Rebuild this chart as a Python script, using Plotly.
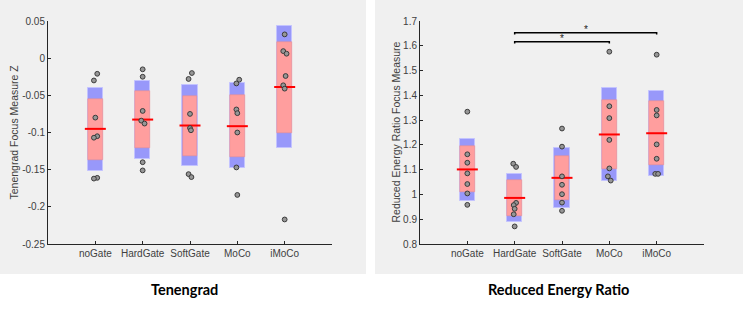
import plotly.graph_objects as go

categories = ["noGate", "HardGate", "SoftGate", "MoCo", "iMoCo"]

# ---- Tenengrad panel ----
ten_mean = [-0.0951, -0.0826, -0.0906, -0.0915, -0.0388]
ten_ci_lo = [-0.1372, -0.1210, -0.1314, -0.1336, -0.1010]
ten_ci_hi = [-0.0543, -0.0445, -0.0508, -0.0494, 0.0217]
ten_sd_lo = [-0.1515, -0.1350, -0.1457, -0.1480, -0.1213]
ten_sd_hi = [-0.0396, -0.0310, -0.0355, -0.0340, 0.0437]
ten_points = [
    [-0.021, -0.030, -0.080, -0.105, -0.107, -0.161, -0.162],
    [-0.015, -0.025, -0.071, -0.084, -0.088, -0.140, -0.151],
    [-0.020, -0.028, -0.075, -0.094, -0.097, -0.156, -0.160],
    [-0.029, -0.034, -0.069, -0.074, -0.100, -0.147, -0.184],
    [0.032, 0.0095, 0.006, -0.024, -0.0365, -0.041, -0.217],
]
ten_jitter = [
    [0.04, -0.03, 0.00, 0.04, -0.03, 0.04, -0.03],
    [0.00, 0.00, 0.00, -0.03, 0.04, 0.00, 0.00],
    [0.04, -0.03, 0.00, 0.00, 0.02, -0.03, 0.03],
    [0.04, -0.02, -0.02, 0.00, 0.00, -0.02, 0.00],
    [0.00, -0.03, 0.04, 0.02, -0.03, 0.00, 0.00],
]
ten_yticks = [-0.25, -0.2, -0.15, -0.1, -0.05, 0, 0.05]
ten_yticktext = ["-0.25", "-0.2", "-0.15", "-0.1", "-0.05", "0", "0.05"]

# ---- Reduced Energy Ratio panel ----
rer_mean = [1.101, 0.986, 1.067, 1.242, 1.247]
rer_ci_lo = [1.008, 0.913, 0.978, 1.104, 1.117]
rer_ci_hi = [1.194, 1.058, 1.156, 1.382, 1.378]
rer_sd_lo = [0.974, 0.889, 0.947, 1.054, 1.075]
rer_sd_hi = [1.224, 1.083, 1.187, 1.430, 1.419]
rer_points = [
    [1.334, 1.162, 1.128, 1.085, 1.042, 1.004, 0.958],
    [1.124, 1.111, 0.966, 0.957, 0.942, 0.920, 0.871],
    [1.266, 1.193, 1.073, 1.039, 1.001, 0.967, 0.934],
    [1.576, 1.356, 1.308, 1.220, 1.105, 1.073, 1.056],
    [1.564, 1.341, 1.319, 1.202, 1.144, 1.083, 1.083],
]
rer_jitter = [
    [0.00, 0.00, 0.00, 0.00, 0.00, 0.00, 0.00],
    [-0.03, 0.03, 0.03, -0.02, 0.00, -0.02, 0.00],
    [0.00, 0.00, 0.00, 0.00, 0.00, 0.00, 0.00],
    [0.00, 0.00, 0.00, 0.00, 0.00, -0.03, 0.03],
    [0.00, 0.00, 0.00, 0.00, 0.00, -0.03, 0.03],
]
rer_yticks = [0.8, 0.9, 1.0, 1.1, 1.2, 1.3, 1.4, 1.5, 1.6, 1.7]
rer_yticktext = ["0.8", "0.9", "1", "1.1", "1.2", "1.3", "1.4", "1.5", "1.6", "1.7"]
# significance brackets: (from category index, to category index, level)
rer_sig_from = [2, 2]
rer_sig_to = [5, 4]
rer_sig_level = [1.653, 1.616]
sig_drop = 0.007

panel_titles = ["Tenengrad", "Reduced Energy Ratio"]
ylabels = ["Tenengrad Focus Measure Z", "Reduced Energy Ratio Focus Measure"]

BLUE = "rgb(152,152,250)"
BLUE_EDGE = "rgb(195,195,255)"
PINK = "rgb(255,158,158)"
PINK_EDGE = "rgb(235,140,140)"
AX = "#262626"
TXT = "#404040"
BOXW = 0.33
FONT = "Arial, Liberation Sans, sans-serif"

xs = [1, 2, 3, 4, 5]
fig = go.Figure()


def add_panel(xa, ya, mean, ci_lo, ci_hi, sd_lo, sd_hi, pts, jit):
    fig.add_trace(go.Bar(x=xs, y=[h - l for h, l in zip(sd_hi, sd_lo)], base=sd_lo,
                         width=BOXW, marker=dict(color=BLUE, line=dict(color=BLUE_EDGE, width=1)),
                         xaxis=xa, yaxis=ya, showlegend=False, hoverinfo="skip"))
    fig.add_trace(go.Bar(x=xs, y=[h - l for h, l in zip(ci_hi, ci_lo)], base=ci_lo,
                         width=BOXW - 0.02, marker=dict(color=PINK, line=dict(color=PINK_EDGE, width=0.5)),
                         xaxis=xa, yaxis=ya, showlegend=False, hoverinfo="skip"))
    fig.add_trace(go.Scatter(x=xs, y=mean, mode="markers",
                             marker=dict(symbol="line-ew", size=15, line=dict(color="red", width=2)),
                             xaxis=xa, yaxis=ya, showlegend=False))
    px, py = [], []
    for i, (vals, js) in enumerate(zip(pts, jit)):
        for v, j in zip(vals, js):
            px.append(xs[i] + j)
            py.append(v)
    fig.add_trace(go.Scatter(x=px, y=py, mode="markers",
                             marker=dict(symbol="circle", size=4.8, color="rgb(150,150,150)",
                                         line=dict(color="#3a3a3a", width=1)),
                             xaxis=xa, yaxis=ya, showlegend=False))


add_panel("x", "y", ten_mean, ten_ci_lo, ten_ci_hi, ten_sd_lo, ten_sd_hi, ten_points, ten_jitter)
add_panel("x2", "y2", rer_mean, rer_ci_lo, rer_ci_hi, rer_sd_lo, rer_sd_hi, rer_points, rer_jitter)

for a, b, lv in zip(rer_sig_from, rer_sig_to, rer_sig_level):
    fig.add_trace(go.Scatter(x=[a, a, b, b], y=[lv - sig_drop, lv, lv, lv - sig_drop], mode="lines",
                             line=dict(color="black", width=1.5), xaxis="x2", yaxis="y2",
                             showlegend=False, hoverinfo="skip"))
    fig.add_annotation(x=(a + b) / 2, y=lv, xref="x2", yref="y2", text="*", showarrow=False,
                       yanchor="bottom", yshift=-4, font=dict(size=10, color="#202020", family=FONT))

tickfont = dict(family=FONT, size=10, color=TXT)
ydom = [1 - 244 / 328, 1 - 21 / 328]


def xaxis(dom):
    return dict(domain=dom, range=[0, 6], tickvals=xs, ticktext=categories, showline=True,
                linecolor=AX, linewidth=1, ticks="inside", ticklen=3, tickcolor=AX, automargin=False,
                showgrid=False, zeroline=False, tickfont=tickfont, fixedrange=True)


def yaxis(rng, tv, tt, anchor):
    return dict(domain=ydom, range=rng, tickvals=tv, ticktext=tt, showline=True, anchor=anchor,
                linecolor=AX, linewidth=1, ticks="inside", ticklen=3, tickcolor=AX, automargin=False,
                showgrid=False, zeroline=False, tickfont=tickfont)


fig.update_layout(
    template="none",
    width=743, height=328, margin=dict(l=0, r=0, t=0, b=0, pad=0),
    paper_bgcolor="white", plot_bgcolor="white", barmode="overlay", bargap=0,
    xaxis=xaxis([48 / 743, 332 / 743]),
    xaxis2=dict(xaxis([420 / 743, 704 / 743]), anchor="y2"),
    yaxis=yaxis([-0.25, 0.05], ten_yticks, ten_yticktext, "x"),
    yaxis2=yaxis([0.8, 1.7], rer_yticks, rer_yticktext, "x2"),
    showlegend=False,
)
fig.layout.xaxis.anchor = "y"

# grey figure panels
fig.add_shape(type="rect", xref="paper", yref="paper", x0=0, x1=366 / 743, y0=1 - 274 / 328, y1=1,
              fillcolor="#f0f0f0", line=dict(width=0), layer="below")
fig.add_shape(type="rect", xref="paper", yref="paper", x0=375 / 743, x1=1, y0=1 - 274 / 328, y1=1,
              fillcolor="#f0f0f0", line=dict(width=0), layer="below")

ymid = (ydom[0] + ydom[1]) / 2
for xpos, lab in zip([13 / 743, 395 / 743], ylabels):
    fig.add_annotation(x=xpos, y=ymid, xref="paper", yref="paper", text=lab, textangle=-90,
                       showarrow=False, xanchor="center", yanchor="middle",
                       font=dict(family=FONT, size=10.5, color=TXT))

for xpos, t in zip([184 / 743, 558 / 743], panel_titles):
    fig.add_annotation(x=xpos, y=1 - 289 / 328, xref="paper", yref="paper", text="<b>" + t + "</b>",
                       showarrow=False, xanchor="center", yanchor="middle",
                       font=dict(family="Lato", size=14.5, color="black"))

fig.write_html("out.html", config={"displayModeBar": False},
               post_script="document.body.style.margin='0';")
